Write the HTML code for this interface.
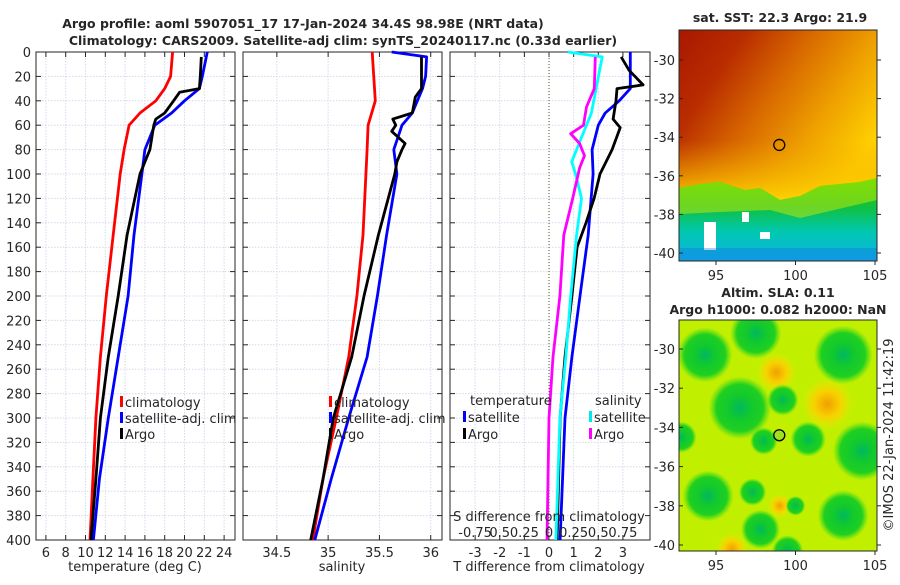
<!DOCTYPE html>
<html><head><meta charset="utf-8"><style>
body{margin:0;background:#fff;}
svg text{font-family:"DejaVu Sans","Liberation Sans",sans-serif;fill:#262626;}
</style></head><body>
<svg id="chart" width="900" height="580" xmlns="http://www.w3.org/2000/svg">
<defs>
<linearGradient id="sstTop" x1="0" y1="0" x2="1" y2="0.6">
<stop offset="0" stop-color="#a81800"/><stop offset="0.25" stop-color="#b82c00"/><stop offset="0.5" stop-color="#d86800"/><stop offset="0.75" stop-color="#eea000"/><stop offset="1" stop-color="#ffd000"/>
</linearGradient>
<linearGradient id="sstMid" x1="0" y1="0" x2="0" y2="1">
<stop offset="0" stop-color="#f0a000" stop-opacity="0"/><stop offset="1" stop-color="#ffd800"/>
</linearGradient>
<linearGradient id="sstBot" x1="0" y1="0" x2="0" y2="1">
<stop offset="0" stop-color="#30d000"/><stop offset="0.35" stop-color="#10c040"/><stop offset="0.65" stop-color="#00c8b0"/><stop offset="1" stop-color="#10b0e8"/>
</linearGradient>
<radialGradient id="blobG"><stop offset="0" stop-color="#00b860"/><stop offset="0.35" stop-color="#10c830"/><stop offset="0.75" stop-color="#20d020"/><stop offset="1" stop-color="#40d820" stop-opacity="0"/></radialGradient>
<radialGradient id="blobO"><stop offset="0" stop-color="#f0a000"/><stop offset="0.5" stop-color="#f8d000"/><stop offset="1" stop-color="#f8e000" stop-opacity="0"/></radialGradient>
</defs>
<g id="root"></g>
</svg>
<script>
// ---- data ----
const depthTicks=[0,20,40,60,80,100,120,140,160,180,200,220,240,260,280,300,320,340,360,380,400];
const tempTicks=[6,8,10,12,14,16,18,20,22,24];
const salTicks=[34.5,35,35.5,36];
const salTickLabels=["34.5","35","35.5","36"];
const tdiffTicks=[-3,-2,-1,0,1,2,3];
const sdiffTicks=[-0.75,-0.5,-0.25,0,0.25,0.5,0.75];
const sdiffLabels=["-0.75","0.5","0.25","0","0.25","0.5","0.75"];
const tClimDepth=[0,20,30,40,50,60,80,100,150,200,250,300,350,400];
const tClimVal=[18.8,18.6,18.0,17.1,15.5,14.4,13.9,13.5,12.8,12.1,11.5,11.05,10.75,10.45];
const tSatDepth=[0,20,30,40,50,60,80,100,150,200,250,300,350,400];
const tSatVal=[22.3,21.8,21.5,20.0,18.7,17.0,16.0,15.7,14.9,14.3,13.3,12.3,11.4,10.8];
const tArgoDepth=[4,20,30,33,40,50,55,60,80,100,150,200,250,300,350,400];
const tArgoVal=[21.7,21.6,21.5,19.5,18.9,18.0,17.1,16.9,16.5,15.5,14.2,13.3,12.3,11.5,11.05,10.55];
const sClimDepth=[0,40,60,80,150,200,250,300,350,400];
const sClimVal=[35.43,35.46,35.39,35.38,35.34,35.28,35.2,35.08,34.95,34.85];
const sSatDepth=[0,4,20,30,50,60,80,100,150,200,250,300,350,400];
const sSatVal=[35.62,35.96,35.95,35.92,35.82,35.72,35.64,35.67,35.57,35.48,35.38,35.2,35.03,34.87];
const sArgoDepth=[4,30,37,50,55,60,65,75,80,90,100,150,200,250,300,350,400];
const sArgoVal=[35.91,35.91,35.85,35.82,35.63,35.66,35.62,35.75,35.72,35.67,35.65,35.49,35.35,35.23,35.05,34.95,34.83];
const dTSatDepth=[0,30,40,50,60,80,100,150,200,250,300,400];
const dTSatVal=[3.3,3.3,2.85,2.28,2.0,1.75,1.79,1.59,1.26,0.93,0.65,0.45];
const dTArgoDepth=[4,15,27,30,40,55,62,80,100,120,140,160,200,250,300,400];
const dTArgoVal=[2.93,3.25,3.82,2.76,2.72,2.6,2.89,2.56,2.07,1.83,1.5,1.14,0.93,0.65,0.45,0.33];
const dSSatDepth=[0,4,50,70,90,100,120,150,200,250,300,400];
const dSSatVal=[0.19,0.54,0.43,0.33,0.23,0.27,0.33,0.28,0.22,0.17,0.11,0.07];
const dSArgoDepth=[4,30,45,60,67,75,85,95,120,150,200,250,300,400];
const dSArgoVal=[0.47,0.46,0.38,0.35,0.22,0.31,0.36,0.31,0.24,0.15,0.11,0.04,0.0,-0.02];
const latTicks=[-30,-32,-34,-36,-38,-40];
const lonTicks=[95,100,105];
const argoLon=98.98, argoLat=-34.4;
const slaGreenLon=[94.3,97.5,96.5,99.2,100.8,103,103,94.5,97.3,97.8,104.2,98,92.8,100,99.5];
const slaGreenLat=[-30.3,-29.2,-33,-32.6,-34.6,-30.3,-38.5,-37.5,-37.3,-39.2,-35.2,-34.7,-34.5,-38,-40.3];
const slaGreenR=[1.4,1.3,1.6,0.8,0.9,1.5,1.3,1.3,0.7,1.0,1.5,0.7,0.8,0.5,0.8];
const slaOrangeLon=[98.8,102,96,99];
const slaOrangeLat=[-31.2,-32.8,-40.2,-38];
const slaOrangeR=[1.0,1.3,0.8,0.6];

const NS="http://www.w3.org/2000/svg";
const root=document.getElementById('root');
function mk(tag,attrs,parent,name,inter){
  const e=document.createElementNS(NS,tag);
  for(const k in attrs)e.setAttribute(k,attrs[k]);
  
  
  (parent||root).appendChild(e);return e;
}
function txt(x,y,s,opts,parent,name){
  const t=mk('text',Object.assign({x:x,y:y,'font-size':13},opts||{}),parent,name,false);
  t.textContent=s;return t;
}
const Y0=52,Y1=540;
function yD(d){return Y0+(Y1-Y0)*d/400;}
function panel(x0,x1,xmin,xmax,name){
  const g=mk('g',{},root,name,false);
  const sx=v=>x0+(x1-x0)*(v-xmin)/(xmax-xmin);
  return {g:g,sx:sx,x0:x0,x1:x1};
}
const GRID='#d4d9ec';
function gridAndFrame(p,ticks,vlabels,showY){
  const g=p.g;
  ticks.forEach(v=>{mk('line',{x1:p.sx(v),x2:p.sx(v),y1:Y0,y2:Y1,stroke:GRID,'stroke-dasharray':'1.5,1.5','stroke-width':1},g,'x-gridline',false);});
  depthTicks.forEach(d=>{mk('line',{x1:p.x0,x2:p.x1,y1:yD(d),y2:yD(d),stroke:GRID,'stroke-dasharray':'1.5,1.5','stroke-width':1},g,'y-gridline',false);});
  ticks.forEach((v,i)=>{
    const x=p.sx(v);
    mk('line',{x1:x,x2:x,y1:Y1,y2:Y1-5,stroke:'#262626'},g,'x-tick',false);
    mk('line',{x1:x,x2:x,y1:Y0,y2:Y0+5,stroke:'#262626'},g,'x-tick',false);
    if(vlabels)txt(x,Y1+17,vlabels[i],{'text-anchor':'middle'},g,'x-tick-label');
  });
  depthTicks.forEach(d=>{
    mk('line',{x1:p.x0,x2:p.x0+5,y1:yD(d),y2:yD(d),stroke:'#262626'},g,'y-tick',false);
    mk('line',{x1:p.x1,x2:p.x1-5,y1:yD(d),y2:yD(d),stroke:'#262626'},g,'y-tick',false);
    if(showY)txt(p.x0-5,yD(d)+5,String(d),{'text-anchor':'end'},g,'y-tick-label');
  });
  mk('rect',{x:p.x0,y:Y0,width:p.x1-p.x0,height:Y1-Y0,fill:'none',stroke:'#262626','stroke-width':1},g,'axes-frame',false);
}
function series(p,depths,vals,color,name,scale){
  const pts=depths.map((d,i)=>p.sx(vals[i]*(scale||1)).toFixed(1)+','+yD(d).toFixed(1)).join(' ');
  mk('polyline',{points:pts,fill:'none',stroke:color,'stroke-width':2.8,'stroke-linejoin':'round'},p.g,name,false);
}
function legendEntry(g,x,y,color,label,name){
  mk('rect',{x:x,y:y-11,width:3,height:11,fill:color},g,name+'-marker',false);
  txt(x+5,y,label,{},g,name+'-label');
}

txt(303,28,'Argo profile: aoml 5907051_17 17-Jan-2024 34.4S 98.98E (NRT data)',{'text-anchor':'middle','font-weight':'bold','font-size':12.5},root,'title-line-1');
txt(343,45,'Climatology: CARS2009. Satellite-adj clim: synTS_20240117.nc (0.33d earlier)',{'text-anchor':'middle','font-weight':'bold','font-size':12.5},root,'title-line-2');

const p1=panel(36,235,5,25.1,'temperature-panel');
gridAndFrame(p1,tempTicks,tempTicks.map(String),true);
series(p1,tClimDepth,tClimVal,'#ff0000','temp-climatology-line');
series(p1,tSatDepth,tSatVal,'#0000ff','temp-satellite-line');
series(p1,tArgoDepth,tArgoVal,'#000000','temp-argo-line');
txt(135,571,'temperature (deg C)',{'text-anchor':'middle'},p1.g,'x-axis-title-temperature');
const lg1=mk('g',{},p1.g,'temperature-legend',false);
legendEntry(lg1,120,407,'#ff0000','climatology','legend-climatology');
legendEntry(lg1,120,423,'#0000ff','satellite-adj. clim','legend-satellite');
legendEntry(lg1,120,439,'#000000','Argo','legend-argo');

const p2=panel(243,442,34.17,36.11,'salinity-panel');
gridAndFrame(p2,salTicks,salTickLabels,false);
series(p2,sClimDepth,sClimVal,'#ff0000','sal-climatology-line');
series(p2,sSatDepth,sSatVal,'#0000ff','sal-satellite-line');
series(p2,sArgoDepth,sArgoVal,'#000000','sal-argo-line');
txt(342,571,'salinity',{'text-anchor':'middle'},p2.g,'x-axis-title-salinity');
const lg2=mk('g',{},p2.g,'salinity-legend',false);
legendEntry(lg2,329,407,'#ff0000','climatology','legend-climatology');
legendEntry(lg2,329,423,'#0000ff','satellite-adj. clim','legend-satellite');
legendEntry(lg2,329,439,'#000000','Argo','legend-argo');

const p3=panel(450,650,-4.02,4.1,'difference-panel');
gridAndFrame(p3,tdiffTicks,tdiffTicks.map(String),false);
mk('line',{x1:p3.sx(0),x2:p3.sx(0),y1:Y0,y2:Y1,stroke:'#4a5a20','stroke-dasharray':'1,2','stroke-width':1},p3.g,'zero-line',false);
series(p3,dTSatDepth,dTSatVal,'#0000ff','tdiff-satellite-line');
series(p3,dTArgoDepth,dTArgoVal,'#000000','tdiff-argo-line');
series(p3,dSSatDepth,dSSatVal,'#00ffff','sdiff-satellite-line',4);
series(p3,dSArgoDepth,dSArgoVal,'#ff00ff','sdiff-argo-line',4);
txt(549,571,'T difference from climatology',{'text-anchor':'middle'},p3.g,'x-axis-title-tdiff');
txt(549,521,'S difference from climatology',{'text-anchor':'middle'},p3.g,'s-axis-title');
sdiffTicks.forEach((v,i)=>{txt(p3.sx(v*4),537,sdiffLabels[i],{'text-anchor':'middle'},p3.g,'s-tick-label');});
const lg3=mk('g',{},p3.g,'difference-legend',false);
txt(470,405,'temperature',{},lg3,'legend-temperature-header');
legendEntry(lg3,463,422,'#0000ff','satellite','legend-t-satellite');
legendEntry(lg3,463,439,'#000000','Argo','legend-t-argo');
txt(595,405,'salinity',{},lg3,'legend-salinity-header');
legendEntry(lg3,589,422,'#00e8e8','satellite','legend-s-satellite');
legendEntry(lg3,589,439,'#ff00ff','Argo','legend-s-argo');

function mapAxes(yLat30,yLat40){
  const lx=v=>716+(v-95)*(875-716)/10;
  const ly=v=>yLat30+(yLat40-yLat30)*(-30-v)/10;
  return {lx:lx,ly:ly};
}
function mapFrame(g,m,x0,x1,y0,y1){
  mk('rect',{x:x0,y:y0,width:x1-x0,height:y1-y0,fill:'none',stroke:'#262626'},g,'map-frame',false);
  latTicks.forEach(v=>{const y=m.ly(v);
    mk('line',{x1:x0,x2:x0+4,y1:y,y2:y,stroke:'#262626'},g,'lat-tick',false);
    mk('line',{x1:x1,x2:x1+4,y1:y,y2:y,stroke:'#262626'},g,'lat-tick',false);
    txt(x0-4,y+5,String(v),{'text-anchor':'end'},g,'lat-tick-label');});
  lonTicks.forEach(v=>{const x=m.lx(v);
    mk('line',{x1:x,x2:x,y1:y1,y2:y1+4,stroke:'#262626'},g,'lon-tick',false);
    txt(x,y1+19,String(v),{'text-anchor':'middle'},g,'lon-tick-label');});
}
const gm1=mk('g',{},root,'sst-map',false);
const m1=mapAxes(60,253);
mk('rect',{x:679,y:30,width:198,height:175,fill:'url(#sstTop)'},gm1,'sst-warm-region',false);
mk('rect',{x:679,y:140,width:198,height:65,fill:'url(#sstMid)'},gm1,'sst-mid-region',false);
mk('path',{d:'M679,261 L679,188 L700,184 L720,182 L745,190 L760,188 L780,200 L800,196 L820,186 L840,184 L860,182 L877,178 L877,261 Z',fill:'url(#sstBot)'},gm1,'sst-cold-region',false);
mk('path',{d:'M679,188 L700,184 L720,182 L745,190 L760,188 L780,200 L800,196 L820,186 L840,184 L860,182 L877,178 L877,200 L800,218 L770,210 L720,212 L679,214 Z',fill:'#e0f000',opacity:0.45},gm1,'sst-front',false);
mk('rect',{x:704,y:222,width:12,height:28,fill:'#ffffff'},gm1,'sst-missing-data',false);
mk('rect',{x:742,y:212,width:7,height:10,fill:'#ffffff'},gm1,'sst-missing-data',false);
mk('rect',{x:760,y:232,width:10,height:7,fill:'#ffffff'},gm1,'sst-missing-data',false);
mk('rect',{x:680,y:248,width:197,height:13,fill:'#1070e0',opacity:0.35},gm1,'sst-coldest-band',false);
mapFrame(gm1,m1,679,877,30,261);
mk('circle',{cx:m1.lx(argoLon),cy:m1.ly(argoLat),r:5.5,fill:'none',stroke:'#000','stroke-width':1.3},gm1,'argo-location-marker',false);
txt(780,22,'sat. SST: 22.3 Argo: 21.9',{'text-anchor':'middle','font-weight':'bold','font-size':12.5},gm1,'sst-map-title');

const gm2=mk('g',{},root,'sla-map',false);
const m2=mapAxes(349,545);
const clip=mk('clipPath',{id:'slaClip'},gm2,'sla-clip',false);
mk('rect',{x:679,y:320,width:198,height:231},clip,'sla-clip-rect',false);
const inner=mk('g',{'clip-path':'url(#slaClip)'},gm2,'sla-field',false);
mk('rect',{x:679,y:320,width:198,height:231,fill:'#c0f000'},inner,'sla-background',false);
const degPx=(545-349)/10;
slaOrangeLon.forEach((lo,i)=>{mk('circle',{cx:m2.lx(lo),cy:m2.ly(slaOrangeLat[i]),r:slaOrangeR[i]*degPx,fill:'url(#blobO)'},inner,'sla-high-blob',false);});
slaGreenLon.forEach((lo,i)=>{mk('circle',{cx:m2.lx(lo),cy:m2.ly(slaGreenLat[i]),r:slaGreenR[i]*degPx,fill:'url(#blobG)'},inner,'sla-low-blob',false);});
mapFrame(gm2,m2,679,877,320,551);
mk('circle',{cx:m2.lx(argoLon),cy:m2.ly(argoLat),r:5.5,fill:'#a0e020',stroke:'#000','stroke-width':1.3},gm2,'argo-location-marker',false);
txt(778,297,'Altim. SLA: 0.11',{'text-anchor':'middle','font-weight':'bold','font-size':12.5},gm2,'sla-map-title-1');
txt(778,314,'Argo h1000: 0.082 h2000: NaN',{'text-anchor':'middle','font-weight':'bold','font-size':12.5},gm2,'sla-map-title-2');
txt(0,0,'©IMOS 22-Jan-2024 11:42:19',{'text-anchor':'middle',transform:'translate(893,435) rotate(-90)'},root,'imos-timestamp');
</script>
</body></html>
